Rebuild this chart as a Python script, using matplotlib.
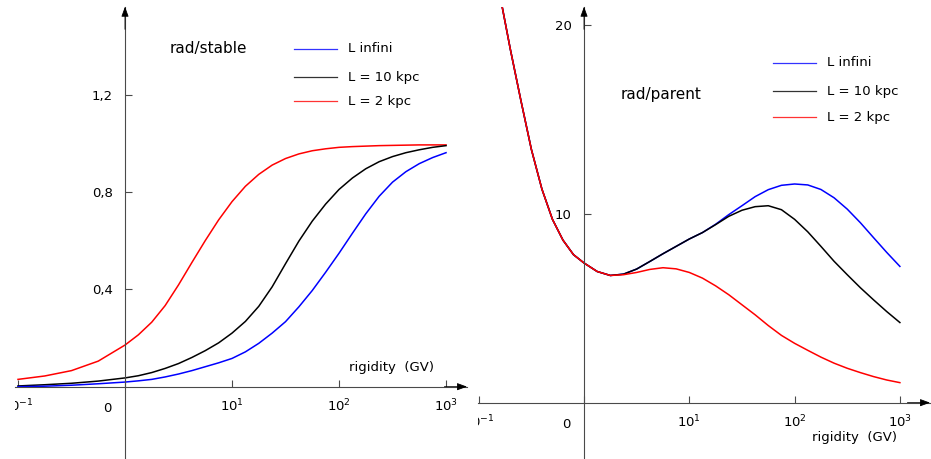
import matplotlib
matplotlib.use('Agg')
import matplotlib.pyplot as plt
import numpy as np
from matplotlib.lines import Line2D
from matplotlib.transforms import offset_copy

plt.rcParams['font.family'] = ['DejaVu Sans']

W, H = 931, 459

series_names = ['L infini', 'L = 10 kpc', 'L = 2 kpc']
series_colors = ['#0000ff', '#000000', '#ff0000']

# rad/stable panel (x = log10 rigidity in GV)
stable_logR = [-1, -0.75, -0.5, -0.25, 0, 0.125, 0.25, 0.375, 0.5, 0.625, 0.75, 0.875,
               1, 1.125, 1.25, 1.375, 1.5, 1.625, 1.75, 1.875, 2, 2.125, 2.25, 2.375,
               2.5, 2.625, 2.75, 2.875, 3]
stable_inf = [0.0, 0.002, 0.006, 0.012, 0.019, 0.024, 0.03, 0.04, 0.052, 0.066, 0.082, 0.098,
              0.116, 0.143, 0.178, 0.22, 0.267, 0.328, 0.395, 0.47, 0.548, 0.63, 0.71, 0.782,
              0.84, 0.883, 0.916, 0.941, 0.961]
stable_10 = [0.003, 0.008, 0.014, 0.023, 0.036, 0.045, 0.058, 0.075, 0.095, 0.12, 0.148, 0.18,
             0.22, 0.268, 0.33, 0.41, 0.505, 0.598, 0.68, 0.75, 0.81, 0.857, 0.895, 0.924,
             0.945, 0.961, 0.973, 0.983, 0.99]
stable_2 = [0.03, 0.044, 0.066, 0.105, 0.171, 0.213, 0.265, 0.333, 0.418, 0.51, 0.60, 0.685,
            0.76, 0.823, 0.872, 0.91, 0.937, 0.956, 0.969, 0.977, 0.983, 0.986, 0.988, 0.99,
            0.991, 0.992, 0.993, 0.993, 0.993]

# rad/parent panel
parent_logR = [-0.8, -0.7, -0.6, -0.5, -0.4, -0.3, -0.2, -0.1, 0, 0.125, 0.25, 0.375, 0.5,
               0.625, 0.75, 0.875, 1, 1.125, 1.25, 1.375, 1.5, 1.625, 1.75, 1.875, 2,
               2.125, 2.25, 2.375, 2.5, 2.625, 2.75, 2.875, 3]
parent_2 = [21.6, 18.7, 16.0, 13.4, 11.3, 9.7, 8.6, 7.83, 7.39, 6.94, 6.73, 6.77, 6.89,
            7.05, 7.14, 7.08, 6.89, 6.59, 6.18, 5.71, 5.18, 4.65, 4.08, 3.56, 3.14,
            2.77, 2.41, 2.09, 1.82, 1.59, 1.38, 1.20, 1.06]
parent_10 = [21.6, 18.7, 16.0, 13.4, 11.3, 9.7, 8.6, 7.83, 7.39, 6.94, 6.73, 6.80, 7.07,
             7.47, 7.88, 8.27, 8.66, 9.0, 9.42, 9.86, 10.18, 10.37, 10.42, 10.21, 9.7,
             9.04, 8.27, 7.48, 6.77, 6.08, 5.44, 4.82, 4.24]
parent_inf = [21.6, 18.7, 16.0, 13.4, 11.3, 9.7, 8.6, 7.83, 7.39, 6.94, 6.73, 6.80, 7.07,
              7.47, 7.88, 8.27, 8.66, 9.0, 9.44, 9.95, 10.42, 10.9, 11.27, 11.5, 11.57,
              11.52, 11.28, 10.84, 10.24, 9.52, 8.73, 7.95, 7.21]

xtick_vals = [0.1, 1, 10, 100, 1000]
xtick_text = [r'$\mathregular{10^{-1}}$', '0', r'$\mathregular{10^{1}}$',
              r'$\mathregular{10^{2}}$', r'$\mathregular{10^{3}}$']

AXIS_COLOR = '#4a4a4a'
FS = 9.5
TITLE_FS = 11

fig = plt.figure(figsize=(W / 100, H / 100), dpi=100)


def px_axes(x0, x1, y_top, y_bottom):
    return fig.add_axes([x0 / W, 1 - y_bottom / H, (x1 - x0) / W, (y_bottom - y_top) / H])


def setup_panel(ax, xlim_log, ylim, yticks, ylabels):
    ax.set_xscale('log')
    ax.set_xlim(10 ** xlim_log[0], 10 ** xlim_log[1])
    ax.set_ylim(*ylim)
    ax.patch.set_visible(False)
    for s in ['top', 'right']:
        ax.spines[s].set_visible(False)
    ax.spines['left'].set_position(('data', 1.0))
    ax.spines['bottom'].set_position(('data', 0.0))
    for s in ['left', 'bottom']:
        ax.spines[s].set_color(AXIS_COLOR)
        ax.spines[s].set_linewidth(0.8)
    ax.set_yticks(yticks)
    ax.set_yticklabels(ylabels, fontsize=FS)
    ax.tick_params(axis='y', direction='in', length=5, width=0.8, color=AXIS_COLOR, pad=9)
    ax.set_xticks(xtick_vals)
    ax.set_xticklabels([''] * len(xtick_vals))
    ax.xaxis.set_minor_locator(matplotlib.ticker.NullLocator())
    ax.tick_params(axis='x', direction='in', length=5, width=0.8, color=AXIS_COLOR)
    arrow = dict(arrowstyle='-|>,head_length=0.6,head_width=0.22', color='black',
                 lw=0.6, mutation_scale=10, shrinkA=0, shrinkB=0)
    ax.annotate('', xy=(1, 1), xycoords=('data', 'axes fraction'),
                xytext=(1, 0.95), textcoords=('data', 'axes fraction'), arrowprops=arrow)
    ax.annotate('', xy=(1, 0), xycoords=('axes fraction', 'data'),
                xytext=(0.95, 0), textcoords=('axes fraction', 'data'), arrowprops=arrow)
    for v, t in zip(xtick_vals, xtick_text):
        dx = -18 if v == 1 else 0
        tr = offset_copy(ax.transData, fig=fig, x=dx, y=-25, units='dots')
        ax.text(v, 0, t, transform=tr, ha='center', va='baseline', fontsize=FS,
                clip_on=True)


def fig_text(x, y, s, size=FS):
    fig.text(x / W, 1 - y / H, s, fontsize=size, va='center', ha='left')


def legend(x0, x1, xt, ys):
    for name, c, y in zip(series_names, series_colors, ys):
        fig.add_artist(Line2D([x0 / W, x1 / W], [1 - y / H, 1 - y / H], color=c, lw=0.9,
                              alpha=0.8))
        fig_text(xt, y, name)


# left panel
ax1 = px_axes(15, 467, 6.7, 459)
setup_panel(ax1, (-1.028, 3.196), (-0.297, 1.5606), [0.4, 0.8, 1.2], ['0,4', '0,8', '1,2'])
R1 = 10 ** np.array(stable_logR)
for vals, c in zip([stable_2, stable_10, stable_inf], [series_colors[2], series_colors[1], series_colors[0]]):
    ax1.plot(R1, vals, color=c, lw=1.1)
fig_text(170, 48, 'rad/stable', TITLE_FS)
legend(294, 337, 348, [49, 77, 101])
fig_text(349, 367, 'rigidity  (GV)')

# right panel
ax2 = px_axes(478, 930, 6.7, 459)
setup_panel(ax2, (-1.007, 3.286), (-2.98, 20.95), [10, 20], ['10', '20'])
R2 = 10 ** np.array(parent_logR)
for vals, c in zip([parent_inf, parent_10, parent_2], series_colors):
    ax2.plot(R2, vals, color=c, lw=1.1)
fig_text(621, 95, 'rad/parent', TITLE_FS)
legend(773, 816, 827, [63, 91, 117])
fig_text(812, 438, 'rigidity  (GV)')

fig.savefig('out.png', dpi=100)
